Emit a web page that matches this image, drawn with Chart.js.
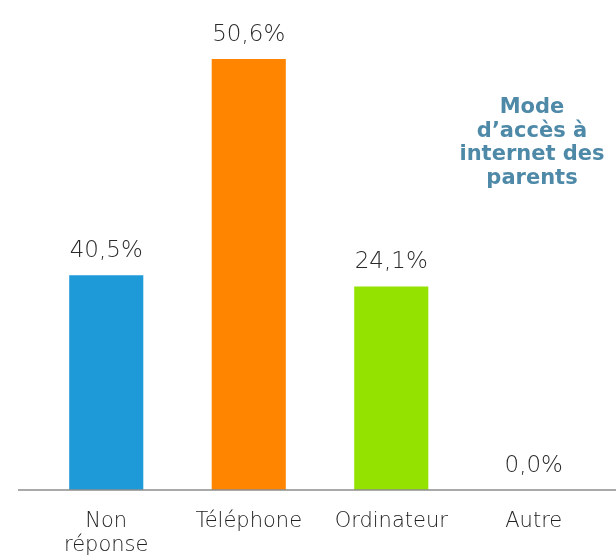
<!DOCTYPE html>
<html>
<head>
<meta charset="utf-8">
<script src="https://cdn.jsdelivr.net/npm/chart.js@4/dist/chart.umd.min.js"></script>
<style>
  html, body { margin: 0; padding: 0; background: #fff; }
  #wrap { width: 616px; height: 556px; position: relative; }
</style>
</head>
<body>
<div id="wrap"><canvas id="chart"></canvas></div>
<script>
// Catégories et valeurs
const categories = [['Non', 'réponse'], 'Téléphone', 'Ordinateur', 'Autre'];
// hauteurs des barres telles que dessinées (le graphique d'origine n'est pas à l'échelle)
const barHeights = [25.2, 50.6, 23.9, 0];
const valueLabels = ['40,5%', '50,6%', '24,1%', '0,0%'];
const barColors = ['#1e9ad8', '#ff8500', '#93e200', '#cccccc'];
const titleLines = ['Mode', 'd\u2019accès à', 'internet des', 'parents'];

// étiquettes au-dessus des barres + titre + ligne de base
const annotations = {
    id: 'annotations',
    afterDatasetsDraw(chart) {
        const ctx = chart.ctx;
        const area = chart.chartArea;
        ctx.save();

        // ligne de base
        ctx.strokeStyle = '#8c8c8c';
        ctx.lineWidth = 1.5;
        ctx.beginPath();
        ctx.moveTo(18, area.bottom);
        ctx.lineTo(chart.width, area.bottom);
        ctx.stroke();

        // valeurs
        ctx.fillStyle = '#2a2a2a';
        ctx.font = '200 23px "DejaVu Sans"';
        ctx.textAlign = 'center';
        ctx.textBaseline = 'middle';
        chart.getDatasetMeta(0).data.forEach(function(bar, i) {
            ctx.fillText(valueLabels[i], bar.x, bar.y - 24);
        });

        // titre
        ctx.fillStyle = '#4e89a8';
        ctx.font = 'bold 21px "DejaVu Sans"';
        titleLines.forEach(function(line, i) {
            ctx.fillText(line, 532, 108 + i * 23.5);
        });
        ctx.restore();
    }
};

const ctx = document.getElementById('chart').getContext('2d');
new Chart(ctx, {
    type: 'bar',
    data: {
        labels: categories,
        datasets: [{
            data: barHeights,
            backgroundColor: barColors,
            borderWidth: 0,
            categoryPercentage: 1,
            barPercentage: 0.52
        }]
    },
    options: {
        responsive: true,
        maintainAspectRatio: false,
        animation: false,
        layout: { padding: { top: 47, left: 35, right: 11, bottom: 0 } },
        plugins: {
            legend: { display: false },
            tooltip: { enabled: false }
        },
        scales: {
            y: {
                display: false,
                min: 0,
                max: 52
            },
            x: {
                grid: { display: false },
                border: { display: false },
                ticks: {
                    color: '#222',
                    padding: 11,
                    maxRotation: 0,
                    font: { family: '"DejaVu Sans"', size: 21, weight: '200', lineHeight: 1.15 }
                },
                afterFit: function(scale) { scale.height = 66; }
            }
        }
    },
    plugins: [annotations]
});
</script>
</body>
</html>
